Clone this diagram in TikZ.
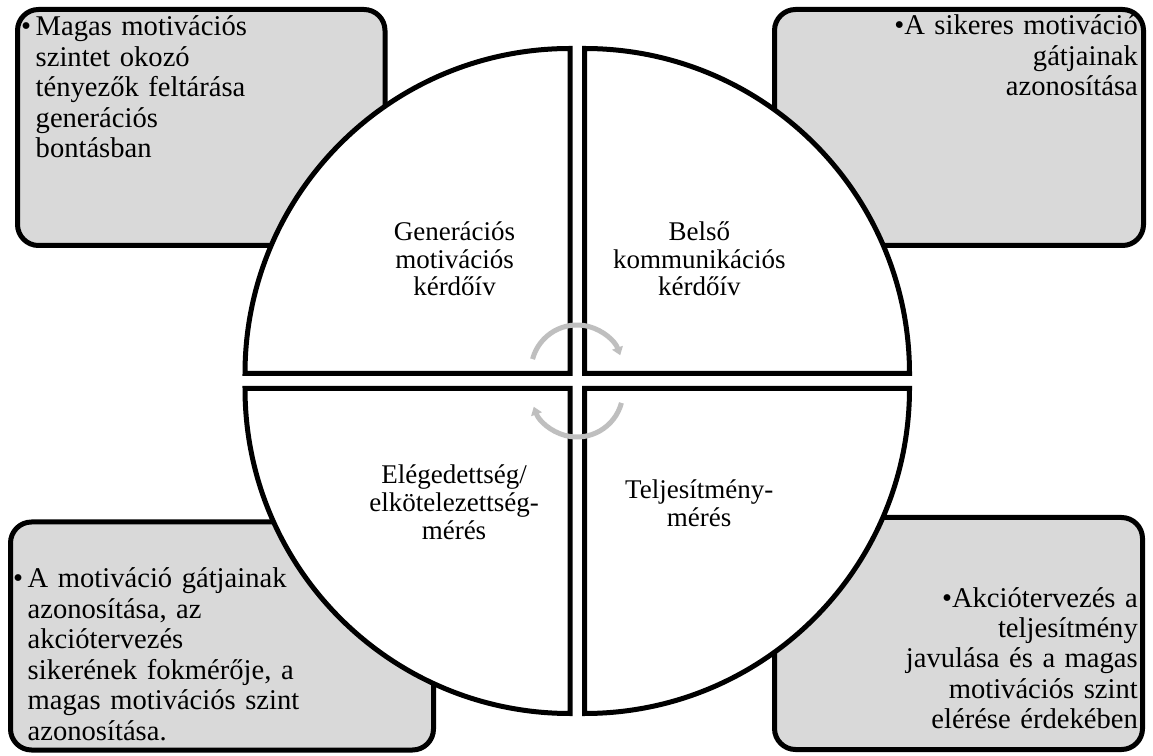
\documentclass[tikz,border=0pt]{standalone}
\usepackage{fontspec}
\setmainfont{Liberation Serif}
\usetikzlibrary{arrows.meta}
\definecolor{boxgray}{RGB}{217,217,217}
\definecolor{cyclegray}{RGB}{191,191,191}
% bullet with hanging indent for the left-aligned lists
\newcommand{\hangline}{\hspace*{14.5pt}}
\newcommand{\bulletmark}{\makebox[14.5pt][l]{\textbullet}}
\begin{document}
\begin{tikzpicture}[x=1pt,y=1pt,
  infobox/.style={draw=black, line width=5pt, fill=boxgray, rounded corners=21pt},
  quarter/.style={draw=black, line width=5pt, fill=white},
  cyclearrow/.style={draw=cyclegray, line width=5pt, -{Triangle[width=11pt,length=8pt]}},
  boxtext/.style={inner sep=0pt, text width=#1, font=\fontsize{28.6}{30.4}\selectfont},
  quartertext/.style={inner sep=0pt, text width=220pt, align=center, font=\fontsize{27}{27.6}\selectfont},
]
\useasboundingbox (0,0) rectangle (1153,755);

% grey corner boxes
\draw[infobox] (17.5,509.5) rectangle (385,745.5);
\draw[infobox] (774.5,509.5) rectangle (1143.5,745.5);
\draw[infobox] (10.5,5) rectangle (433.5,233);
\draw[infobox] (774.5,5.5) rectangle (1142.5,237.5);

% four quarter discs
\draw[quarter] (570,381.5) -- (245,381.5) arc[start angle=180,end angle=90,radius=325pt] -- cycle;
\draw[quarter] (584.5,381.5) -- (584.5,706.5) arc[start angle=90,end angle=0,radius=325pt] -- cycle;
\draw[quarter] (570,366.5) -- (245,366.5) arc[start angle=180,end angle=270,radius=325pt] -- cycle;
\draw[quarter] (584.5,366.5) -- (909.5,366.5) arc[start angle=0,end angle=-90,radius=325pt] -- cycle;

% cycle arrows in the middle
\draw[cyclearrow] (577,384) ++(165:46) arc[start angle=165,end angle=20,radius=46pt];
\draw[cyclearrow] (577,364) ++(-15:46) arc[start angle=-15,end angle=-160,radius=46pt];

% quarter labels
\node[quartertext, anchor=base] (q1) at (454.5,514.3) {Generációs\\motivációs\\kérdőív};
\node[quartertext, anchor=base] (q2) at (699.3,514.3) {Belső\\kommunikációs\\kérdőív};
\node[quartertext, anchor=base] (q3) at (454,271) {Elégedettség/\\elkötelezettség-\\mérés};
\node[quartertext, anchor=base] (q4) at (699.2,256) {Teljesítmény-\\mérés};

% box texts
\node[boxtext=360pt, align=left, anchor=base west] (tltext) at (21,719)
  {\bulletmark Magas motivációs\\\hangline szintet okozó\\\hangline tényezők feltárása\\\hangline generációs\\\hangline bontásban};
\node[boxtext=360pt, align=right, anchor=base east] (trtext) at (1138,720)
  {\textbullet A sikeres motiváció\\gátjainak\\azonosítása};
\node[boxtext=420pt, align=left, anchor=base west] (bltext) at (13,167)
  {\bulletmark A motiváció gátjainak\\\hangline azonosítása, az\\\hangline akciótervezés\\\hangline sikerének fokmérője, a\\\hangline magas motivációs szint\\\hangline azonosítása.};
\node[boxtext=360pt, align=right, anchor=base east] (brtext) at (1138,148)
  {\textbullet Akciótervezés a\\teljesítmény\\javulása és a magas\\motivációs szint\\elérése érdekében};
\end{tikzpicture}
\end{document}
